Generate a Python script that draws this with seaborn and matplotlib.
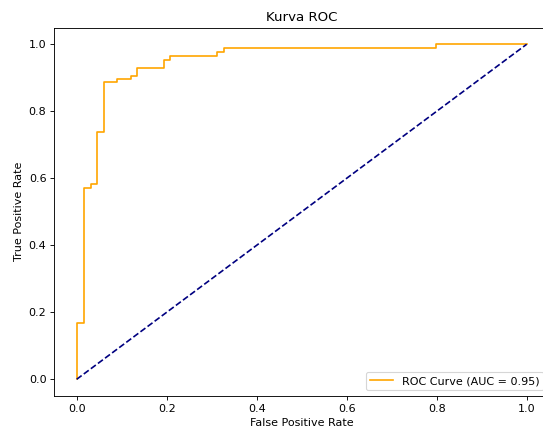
import pandas as pd
import matplotlib
matplotlib.use("Agg")
import matplotlib.pyplot as plt
import seaborn as sns

# ROC corner points
fpr = [0.0, 0.0, 0.016, 0.016, 0.031, 0.031, 0.046, 0.046, 0.061, 0.061,
       0.090, 0.090, 0.120, 0.120, 0.135, 0.135, 0.193, 0.193, 0.207, 0.207,
       0.311, 0.311, 0.327, 0.327, 0.798, 0.798, 1.0]
tpr = [0.0, 0.168, 0.168, 0.572, 0.572, 0.582, 0.582, 0.739, 0.739, 0.886,
       0.886, 0.895, 0.895, 0.905, 0.905, 0.930, 0.930, 0.953, 0.953, 0.966,
       0.966, 0.977, 0.977, 0.989, 0.989, 1.0, 1.0]
auc_value = 0.95

chance_x = [0, 1]
chance_y = [0, 1]

roc = pd.DataFrame({"fpr": fpr, "tpr": tpr})
chance = pd.DataFrame({"x": chance_x, "y": chance_y})

fig = plt.figure(figsize=(543 / 80, 432 / 80), dpi=80)
ax = fig.add_axes([0.0998, 0.0833, 0.9116, 0.853])

sns.lineplot(data=roc, x="fpr", y="tpr", estimator=None, sort=False,
             color="orange", label=f"ROC Curve (AUC = {auc_value:.2f})", ax=ax)
sns.lineplot(data=chance, x="x", y="y", estimator=None, color="navy",
             linestyle="--", ax=ax)

ax.set_xlim(-0.05, 1.05)
ax.set_ylim(-0.05, 1.05)
ax.set_title("Kurva ROC")
ax.set_xlabel("False Positive Rate")
ax.set_ylabel("True Positive Rate")
ax.legend(loc="lower right")

fig.savefig("out.png", dpi=80)
plt.close(fig)
